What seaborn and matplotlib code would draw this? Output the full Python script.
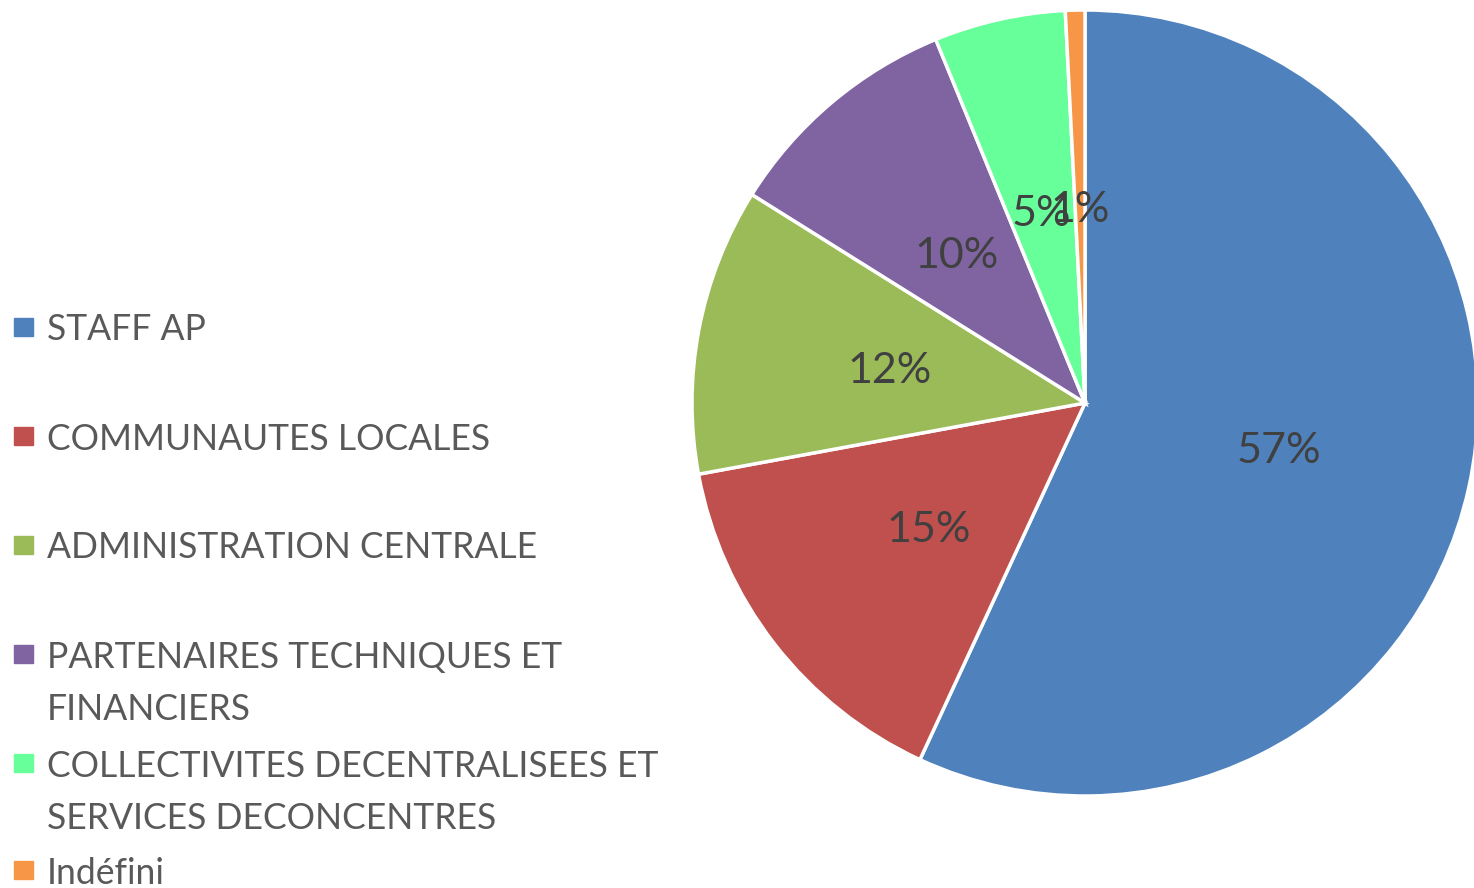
import matplotlib
matplotlib.use("Agg")
import matplotlib.pyplot as plt
import seaborn as sns
from matplotlib.patches import Rectangle

# data
categories = [
    "STAFF AP",
    "COMMUNAUTES LOCALES",
    "ADMINISTRATION CENTRALE",
    "PARTENAIRES TECHNIQUES ET\nFINANCIERS",
    "COLLECTIVITES DECENTRALISEES ET\nSERVICES DECONCENTRES",
    "Indéfini",
]
values = [56.9, 15.2, 11.8, 9.9, 5.4, 0.8]
colors = ["#4F81BD", "#C0504D", "#9BBB59", "#8064A2", "#66FF99", "#F79646"]

sns.set_theme(style="white")
plt.rcParams["font.family"] = ["Lato", "DejaVu Sans"]

W, H = 1474, 888
fig = plt.figure(figsize=(W / 100, H / 100), dpi=100)

# pie centre (1085, 403) px, radius 393 px
ax = fig.add_axes([692 / W, 92 / H, 786 / W, 786 / H])
wedges, texts, autotexts = ax.pie(
    values,
    colors=colors,
    startangle=90,
    counterclock=False,
    autopct=lambda p: f"{p:.0f}%",
    pctdistance=0.505,
    wedgeprops=dict(edgecolor="white", linewidth=2.5),
    textprops=dict(color="#404040", fontsize=31),
)
ax.set_xlim(-1, 1)
ax.set_ylim(-1, 1)
for w in wedges:
    w.set_clip_on(False)
# nudge the percentages a little lower, like the Excel original
for t in autotexts:
    x, y = t.get_position()
    t.set_position((x, y - 0.013))

# legend on the left, drawn by hand to keep Excel-like spacing
entry_y = [327, 436, 545, 654, 763, 870]
line_gap = 52
for lab, col, yc in zip(categories, colors, entry_y):
    fig.add_artist(Rectangle((14 / W, 1 - (yc + 9) / H), 19 / W, 18 / H,
                             transform=fig.transFigure, color=col))
    for i, line in enumerate(lab.split("\n")):
        fig.text(47 / W, 1 - (yc + i * line_gap) / H, line,
                 fontsize=25.6, color="#595959", va="center_baseline", ha="left")

fig.savefig("out.png", dpi=100)
plt.close(fig)
